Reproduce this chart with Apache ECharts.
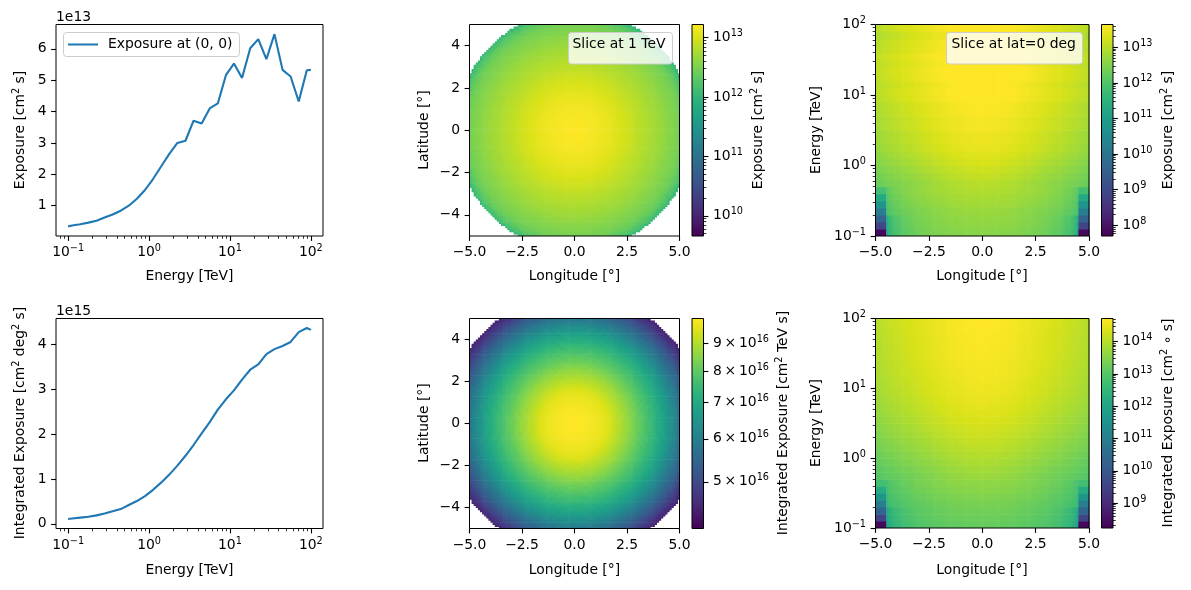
<!DOCTYPE html>
<html><head><meta charset="utf-8">
<script src="https://cdn.jsdelivr.net/npm/echarts@6/dist/echarts.min.js"></script>
<style>html,body{margin:0;padding:0;background:#fff}#c{width:1191px;height:590px}</style>
</head><body><div id="c"></div>
<script>
// ---------------- data ----------------
// energies (TeV) of the two exposure curves
const energyTeV = [0.1, 0.112, 0.141, 0.178, 0.224, 0.282, 0.355, 0.447, 0.562, 0.708, 0.891, 1.12, 1.41, 1.78, 2.24, 2.82, 3.55, 4.47, 5.62, 7.08, 8.91, 11.2, 14.1, 17.8, 22.4, 28.2, 35.5, 44.7, 56.2, 70.8, 89.1, 100];
// exposure at (0,0), units of 1e13 cm^2 s
const exposureCenter = [0.34, 0.37, 0.41, 0.46, 0.52, 0.62, 0.72, 0.84, 1.0, 1.22, 1.5, 1.85, 2.25, 2.65, 3.0, 3.07, 3.71, 3.62, 4.1, 4.26, 5.16, 5.53, 5.07, 6.02, 6.31, 5.67, 6.47, 5.33, 5.12, 4.32, 5.32, 5.33];
// spatially integrated exposure, units of 1e15 cm^2 deg^2 s
const integratedExposure = [0.11, 0.12, 0.14, 0.16, 0.19, 0.23, 0.28, 0.33, 0.42, 0.51, 0.62, 0.76, 0.92, 1.10, 1.30, 1.52, 1.76, 2.02, 2.27, 2.55, 2.78, 2.98, 3.22, 3.44, 3.56, 3.79, 3.90, 3.97, 4.06, 4.28, 4.37, 4.33];
// energy bin edges (TeV) of the map cubes
const energyBinEdgesTeV = [0.1, 0.126, 0.158, 0.2, 0.251, 0.316, 0.398, 0.501, 0.631, 0.794, 1, 1.26, 1.58, 2, 2.51, 3.16, 3.98, 5.01, 6.31, 7.94, 10, 12.6, 15.8, 20, 25.1, 31.6, 39.8, 50.1, 63.1, 79.4, 100];
// radial profiles, sampled every offsetStepDeg from the pointing centre
const offsetStepDeg = 0.125;
const slice1TeVProfile = [16.6, 16.55, 16.4, 16.2, 15.9, 15.6, 15.3, 15.0, 14.7, 14.3, 13.9, 13.45, 13.0, 12.5, 12.0, 11.5, 11.0, 10.5, 10.0, 9.5, 9.0, 8.6, 8.2, 7.75, 7.3, 6.95, 6.6, 6.3, 6.0, 5.7, 5.4, 5.12, 4.85, 4.57, 4.3, 4.05, 3.8, 3.57, 3.35, 3.15, 2.95, 2.62, 2.3, 1.9, 1.55, 1.1]; // 1e12 cm^2 s
const slice1TeVMaxOffsetDeg = 5.65;
const energyIntegratedProfile = [10.0, 10.0, 10.0, 9.98, 9.96, 9.94, 9.91, 9.87, 9.82, 9.78, 9.74, 9.68, 9.61, 9.51, 9.40, 9.28, 9.15, 9.03, 8.91, 8.80, 8.68, 8.55, 8.41, 8.28, 8.15, 8.02, 7.90, 7.77, 7.65, 7.52, 7.39, 7.26, 7.13, 6.97, 6.82, 6.67, 6.52, 6.35, 6.18, 6.02, 5.86, 5.70, 5.53, 5.38, 5.22, 5.06, 4.90, 4.75, 4.61, 4.50]; // 1e16 cm^2 TeV s
const energyIntegratedMaxOffsetDeg = 6.15;
// extra fall-off (decades) of the lowest energy bins vs offset
const lowEnergyDropA = [0, 0, 0, 0.002, 0.005, 0.007, 0.01, 0.015, 0.02, 0.027, 0.035, 0.042, 0.05, 0.06, 0.07, 0.085, 0.1, 0.115, 0.13, 0.15, 0.17, 0.19, 0.21, 0.235, 0.26, 0.29, 0.32, 0.36, 0.4, 0.45, 0.5, 0.56, 0.63, 0.72, 0.82, 1.0, 1.2];   // bins 0-2
const lowEnergyDropB = [0, 0.001, 0.003, 0.006, 0.01, 0.015, 0.02, 0.025, 0.03, 0.037, 0.045, 0.057, 0.07, 0.08, 0.09, 0.105, 0.12, 0.137, 0.155, 0.172, 0.19, 0.21, 0.23, 0.25, 0.27, 0.295, 0.32, 0.35, 0.38, 0.415, 0.45, 0.485, 0.52, 0.57, 0.62, 0.7, 0.8]; // bins 3-6
// |lon| > 4.5 deg columns of the lowest energy bins
const edgeExposureLowE = [6.6e7, 7.7e8, 3.9e9, 1.5e10, 5.5e10, 2.0e11, 7.0e11];   // cm^2 s
const latIntEdgeLowE = [2.3e8, 3.4e9, 2.0e10, 9.1e10, 4.0e11, 1.6e12, 5.5e12];     // cm^2 deg s
// latitude-integrated exposure at lon=0 per energy bin, 1e14 cm^2 deg s
const latIntCenter = [0.15, 0.175, 0.2, 0.24, 0.29, 0.35, 0.41, 0.53, 0.64, 0.78, 0.95, 1.15, 1.38, 1.63, 1.9, 2.2, 2.53, 2.84, 3.19, 3.48, 3.73, 4.03, 4.3, 4.45, 4.74, 4.88, 4.96, 5.08, 5.35, 5.46];
const pixelSizeDeg = 0.1;
const mapHalfWidthDeg = 5;
// colour bar ranges (log10)
const cbSlice1TeV = [9.66, 13.22];
const cbSliceLat = [7.70, 13.64];
const cbEnergyInt = [16.613, 17.0];
const cbLatInt = [8.23, 14.72];
const cbEnergyIntTicks = [5, 6, 7, 8, 9]; // x 1e16

// ---------------- build cells ----------------
function buildSpatial(profile, unit, maxOffset) {
  const out = [];
  const n = Math.round(2 * mapHalfWidthDeg / pixelSizeDeg);
  for (let i = 0; i < n; i++) for (let j = 0; j < n; j++) {
    const lon = -mapHalfWidthDeg + (i + 0.5) * pixelSizeDeg;
    const lat = -mapHalfWidthDeg + (j + 0.5) * pixelSizeDeg;
    const r = Math.hypot(lon, lat);
    if (r > maxOffset) continue;
    const v = profile[Math.min(profile.length - 1, Math.round(r / offsetStepDeg))] * unit;
    out.push([lon, lat, Math.log10(v)]);
  }
  return out;
}
function buildLatSlice(centerOf, edges) {
  const out = [];
  const n = Math.round(2 * mapHalfWidthDeg / pixelSizeDeg);
  for (let k = 0; k < energyBinEdgesTeV.length - 1; k++) {
    for (let i = 0; i < n; i++) {
      const lon = -mapHalfWidthDeg + (i + 0.5) * pixelSizeDeg;
      const r = Math.abs(lon);
      const idx = Math.round(r / offsetStepDeg);
      const c = centerOf(k);
      let v;
      if (k < edges.length && r > 4.5) v = edges[k];
      else if (k <= 2) v = c * Math.pow(10, -lowEnergyDropA[idx]);
      else if (k < edges.length) v = c * Math.pow(10, -lowEnergyDropB[idx]);
      else v = c * slice1TeVProfile[idx] / slice1TeVProfile[0];
      out.push([lon, k, Math.log10(v)]);
    }
  }
  return out;
}
const cellsSlice1TeV = buildSpatial(slice1TeVProfile, 1e12, slice1TeVMaxOffsetDeg);
const cellsEnergyInt = buildSpatial(energyIntegratedProfile, 1e16, energyIntegratedMaxOffsetDeg);
const cellsSliceLat = buildLatSlice(k => exposureCenter[k + 1] * 1e13, edgeExposureLowE);
const cellsLatInt = buildLatSlice(k => latIntCenter[k] * 1e14, latIntEdgeLowE);

// ---------------- styling helpers ----------------
const FONT = "'DejaVu Sans', sans-serif";
const FS = 13.9;
const VIRIDIS = ['#440154','#48186a','#472d7b','#424086','#3b528b','#33638d','#2c728e','#26828e','#21918c','#1fa088','#28ae80','#3fbc73','#5ec962','#84d44b','#addc30','#d8e219','#fde725'];
const RICH = {
  b: {fontFamily: FONT, fontSize: FS, lineHeight: 18, color: '#000'},
  s: {fontFamily: FONT, fontSize: 9.7, lineHeight: 10, verticalAlign: 'top', color: '#000'}
};
const GRICH = {
  b: {fontFamily: FONT, fontSize: FS, lineHeight: 18, fill: '#000'},
  s: {fontFamily: FONT, fontSize: 9.7, lineHeight: 10, verticalAlign: 'top', fill: '#000'}
};
const MINUS = '\u2212';
const fmtInt = v => (v < 0 ? MINUS : '') + Math.abs(Math.round(v));
const fmtDec = v => (v < -1e-9 ? MINUS : '') + Math.abs(v).toFixed(1);
const fmtPow = v => '{b|10}{s|' + fmtInt(v) + '}';
function logMajors(lo, hi) { const o = []; for (let e = Math.ceil(lo - 1e-9); e <= hi + 1e-9; e++) o.push(e); return o; }
function logMinors(lo, hi) { const o = []; for (let e = Math.floor(lo) - 1; e <= Math.ceil(hi); e++) for (let m = 2; m <= 9; m++) { const v = e + Math.log10(m); if (v > lo && v < hi) o.push(v); } return o; }

const grids = [], xAxes = [], yAxes = [];
function addGrid(left, top, width, height) {
  grids.push({left, top, width, height, show: true, z: 10, backgroundColor: 'rgba(0,0,0,0)', borderColor: '#000', borderWidth: 1});
  return grids.length - 1;
}
function addAxis(list, gridIndex, position, min, max, majors, minors, formatter, margin) {
  const base = {gridIndex, type: 'value', min, max, position, splitLine: {show: false}, axisLine: {show: false, onZero: false}, z: 11};
  list.push(Object.assign({}, base, {
    axisTick: {show: true, customValues: majors, length: 4.9, lineStyle: {color: '#000', width: 1.1}},
    axisLabel: formatter ? {show: true, customValues: majors, formatter, margin, color: '#000', fontFamily: FONT, fontSize: FS, rich: RICH, hideOverlap: false} : {show: false}
  }));
  const idx = list.length - 1;
  if (minors && minors.length) list.push(Object.assign({}, base, {
    axisTick: {show: true, customValues: minors, length: 2.8, lineStyle: {color: '#000', width: 0.8}},
    axisLabel: {show: false}
  }));
  return idx;
}
function hiddenX(gridIndex) { xAxes.push({gridIndex, type: 'value', min: 0, max: 1, show: false, axisLine: {onZero: false}}); return xAxes.length - 1; }
function padRange(arr) { const lo = Math.min(...arr), hi = Math.max(...arr), d = hi - lo; return [lo - 0.05 * d, hi + 0.05 * d]; }

const logE = energyTeV.map(e => Math.log10(e));
const xr = padRange(logE);
const XM = 9.5, YM = 9.5;

// top-left
const gTL = addGrid(56, 24.5, 267, 211.5);
const xTL = addAxis(xAxes, gTL, 'bottom', xr[0], xr[1], logMajors(xr[0], xr[1]), logMinors(xr[0], xr[1]), fmtPow, 7.5);
const yrTL = padRange(exposureCenter);
const yTL = addAxis(yAxes, gTL, 'left', yrTL[0], yrTL[1], [1, 2, 3, 4, 5, 6], null, v => String(Math.round(v)), YM);
// bottom-left
const gBL = addGrid(56, 318.5, 267, 210);
const xBL = addAxis(xAxes, gBL, 'bottom', xr[0], xr[1], logMajors(xr[0], xr[1]), logMinors(xr[0], xr[1]), fmtPow, 7.5);
const yrBL = padRange(integratedExposure);
const yBL = addAxis(yAxes, gBL, 'left', yrBL[0], yrBL[1], [0, 1, 2, 3, 4], null, v => String(Math.round(v)), YM);
// heat grids
const lonTicks = [-5, -2.5, 0, 2.5, 5];
const latTicks = [-4, -2, 0, 2, 4];
function heatGrid(left, top, width, height, yIsEnergy) {
  const g = addGrid(left, top, width, height);
  const x = addAxis(xAxes, g, 'bottom', -mapHalfWidthDeg, mapHalfWidthDeg, lonTicks, null, fmtDec, XM);
  let y;
  if (yIsEnergy) {
    const lo = Math.log10(energyBinEdgesTeV[0]), hi = Math.log10(energyBinEdgesTeV[energyBinEdgesTeV.length - 1]);
    y = addAxis(yAxes, g, 'left', lo, hi, logMajors(lo, hi), logMinors(lo, hi), fmtPow, YM);
  } else {
    y = addAxis(yAxes, g, 'left', -mapHalfWidthDeg, mapHalfWidthDeg, latTicks, null, fmtInt, YM);
  }
  return {g, x, y};
}
function cbGrid(left, top, width, height, range, majors, minors, formatter) {
  const g = addGrid(left, top, width, height);
  const x = hiddenX(g);
  const y = addAxis(yAxes, g, 'right', range[0], range[1], majors, minors, formatter, 9.5);
  return {g, x, y};
}
const hTM = heatGrid(469.5, 24.5, 210, 211.5, false);
const cTM = cbGrid(692, 24.5, 11.5, 211.5, cbSlice1TeV, logMajors(...cbSlice1TeV), logMinors(...cbSlice1TeV), fmtPow);
const hTR = heatGrid(875.5, 24.5, 213.5, 211.5, true);
const cTR = cbGrid(1101.5, 24.5, 11.5, 211.5, cbSliceLat, logMajors(...cbSliceLat), logMinors(...cbSliceLat), fmtPow);
const hBM = heatGrid(469.5, 318.5, 210, 210, false);
const cBM = cbGrid(692, 318.5, 11.5, 210, cbEnergyInt, cbEnergyIntTicks.map(m => 16 + Math.log10(m)), null,
  v => '{b|' + Math.round(Math.pow(10, v - 16)) + '\u2009\u00d7\u200910}{s|16}');
const hBR = heatGrid(875.5, 318.5, 213.5, 209.5, true);
const cBR = cbGrid(1101.5, 318.5, 11.5, 209.5, cbLatInt, logMajors(...cbLatInt), logMinors(...cbLatInt), fmtPow);

// ---------------- series ----------------
const half = pixelSizeDeg / 2;
function spatialItem(params, api) {
  const x = api.value(0), y = api.value(1);
  const p0 = api.coord([x - half, y + half]);
  const p1 = api.coord([x + half, y - half]);
  return {type: 'rect', shape: {x: p0[0], y: p0[1], width: p1[0] - p0[0] + 0.6, height: p1[1] - p0[1] + 0.6}, style: {fill: api.visual('color')}};
}
function energyItem(params, api) {
  const x = api.value(0), k = api.value(1);
  const p0 = api.coord([x - half, Math.log10(energyBinEdgesTeV[k + 1])]);
  const p1 = api.coord([x + half, Math.log10(energyBinEdgesTeV[k])]);
  return {type: 'rect', shape: {x: p0[0], y: p0[1], width: p1[0] - p0[0] + 0.6, height: p1[1] - p0[1] + 0.6}, style: {fill: api.visual('color')}};
}
function heatSeries(h, data, renderItem) {
  return {type: 'custom', xAxisIndex: h.x, yAxisIndex: h.y, data, renderItem, encode: {x: 0, y: 1}, clip: true, progressive: 0, progressiveThreshold: 1e9, silent: true};
}
function cbSeries(c, range) {
  return {type: 'custom', xAxisIndex: c.x, yAxisIndex: c.y, data: [[0, range[0], 1, range[1]]], encode: {x: [0, 2], y: [1, 3]}, silent: true,
    renderItem: (p, api) => {
      const a = api.coord([api.value(0), api.value(3)]);
      const b = api.coord([api.value(2), api.value(1)]);
      return {type: 'rect', shape: {x: a[0], y: a[1], width: b[0] - a[0], height: b[1] - a[1]},
        style: {fill: new echarts.graphic.LinearGradient(0, 1, 0, 0, VIRIDIS.map((c, i) => ({offset: i / (VIRIDIS.length - 1), color: c})))}};
    }};
}
const series = [
  {type: 'line', name: 'Exposure at (0, 0)', xAxisIndex: xTL, yAxisIndex: yTL, data: logE.map((x, i) => [x, exposureCenter[i]]),
    symbol: 'none', color: '#1f77b4', lineStyle: {color: '#1f77b4', width: 2.1}, clip: true},
  {type: 'line', name: 'integrated', xAxisIndex: xBL, yAxisIndex: yBL, data: logE.map((x, i) => [x, integratedExposure[i]]),
    symbol: 'none', color: '#1f77b4', lineStyle: {color: '#1f77b4', width: 2.1}, clip: true},
  heatSeries(hTM, cellsSlice1TeV, spatialItem),
  heatSeries(hTR, cellsSliceLat, energyItem),
  heatSeries(hBM, cellsEnergyInt, spatialItem),
  heatSeries(hBR, cellsLatInt, energyItem),
  cbSeries(cTM, cbSlice1TeV), cbSeries(cTR, cbSliceLat), cbSeries(cBM, cbEnergyInt), cbSeries(cBR, cbLatInt)
];
const vm = (si, r) => ({type: 'continuous', show: false, seriesIndex: si, dimension: 2, min: r[0], max: r[1], inRange: {color: VIRIDIS}});

// ---------------- texts ----------------
function T(x, y, text, opt) {
  opt = opt || {};
  return {type: 'text', x, y, z: 100, rotation: opt.rot ? Math.PI / 2 : 0,
    style: {text, fontFamily: FONT, fontSize: FS, fill: '#000', align: opt.align || 'center', verticalAlign: 'middle', rich: GRICH}};
}
const R = {rot: true};
const graphic = [
  T(189.5, 276, '{b|Energy [TeV]}'), T(20, 130, '{b|Exposure [cm}{s|2}{b| s]}', R), T(56, 17, '{b|1e13}', {align: 'left'}),
  T(189.5, 570, '{b|Energy [TeV]}'), T(20, 423, '{b|Integrated Exposure [cm}{s|2}{b| deg}{s|2}{b| s]}', R), T(56, 311, '{b|1e15}', {align: 'left'}),
  T(574.5, 276, '{b|Longitude [°]}'), T(424, 130, '{b|Latitude [°]}', R), T(758, 130, '{b|Exposure [cm}{s|2}{b| s]}', R),
  T(982, 276, '{b|Longitude [°]}'), T(816.5, 130, '{b|Energy [TeV]}', R), T(1168.5, 130, '{b|Exposure [cm}{s|2}{b| s]}', R),
  T(574.5, 570, '{b|Longitude [°]}'), T(424, 423, '{b|Latitude [°]}', R), T(783, 423, '{b|Integrated Exposure [cm}{s|2}{b| TeV s]}', R),
  T(982, 570, '{b|Longitude [°]}'), T(816.5, 423, '{b|Energy [TeV]}', R), T(1168.5, 423, '{b|Integrated Exposure [cm}{s|2}{b| \u2218 s]}', R),
  {type: 'rect', z: 90, shape: {x: 568.5, y: 32.5, width: 104, height: 31.5, r: 3}, style: {fill: 'rgba(255,255,255,0.8)', stroke: '#cccccc', lineWidth: 1}},
  T(572.5, 44.5, '{b|Slice at 1 TeV}', {align: 'left'}),
  {type: 'rect', z: 90, shape: {x: 946.5, y: 32.5, width: 136, height: 31.5, r: 3}, style: {fill: 'rgba(255,255,255,0.8)', stroke: '#cccccc', lineWidth: 1}},
  T(951.5, 44.5, '{b|Slice at lat=0 deg}', {align: 'left'})
];

const chart = echarts.init(document.getElementById('c'), null, {renderer: 'canvas'});
chart.setOption({
  animation: false,
  backgroundColor: '#fff',
  textStyle: {fontFamily: FONT},
  grid: grids, xAxis: xAxes, yAxis: yAxes, series,
  visualMap: [vm(2, cbSlice1TeV), vm(3, cbSliceLat), vm(4, cbEnergyInt), vm(5, cbLatInt)],
  legend: {show: true, data: [{name: 'Exposure at (0, 0)', icon: 'rect'}], left: 63.5, top: 32.5, orient: 'vertical',
    itemWidth: 30, itemHeight: 2, padding: [5, 7, 5, 4.5], backgroundColor: 'rgba(255,255,255,0.8)', borderColor: '#cccccc', borderWidth: 1, borderRadius: 3,
    textStyle: {fontFamily: FONT, fontSize: FS, color: '#000', padding: [0, 0, 0, 5]}, z: 50, selectedMode: false},
  graphic
});
</script></body></html>
